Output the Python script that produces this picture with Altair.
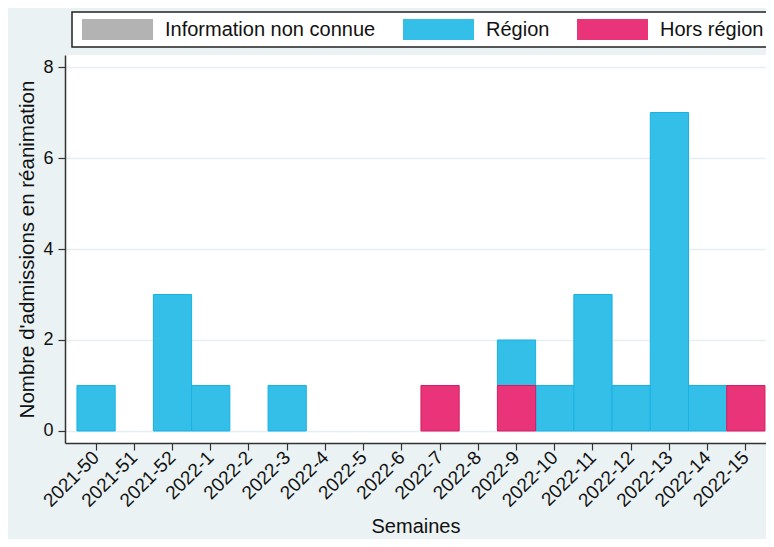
import altair as alt
import pandas as pd

weeks = ["2021-50", "2021-51", "2021-52", "2022-1", "2022-2", "2022-3", "2022-4",
         "2022-5", "2022-6", "2022-7", "2022-8", "2022-9", "2022-10", "2022-11",
         "2022-12", "2022-13", "2022-14", "2022-15"]
region = [1, 0, 3, 1, 0, 1, 0, 0, 0, 0, 0, 1, 1, 3, 1, 7, 1, 0]
hors_region = [0, 0, 0, 0, 0, 0, 0, 0, 0, 1, 0, 1, 0, 0, 0, 0, 0, 1]
inconnue = [0, 0, 0, 0, 0, 0, 0, 0, 0, 0, 0, 0, 0, 0, 0, 0, 0, 0]

categories = ["Information non connue", "Région", "Hors région"]
fill_colors = ["#B3B3B3", "#34BFE9", "#EA3479"]
stroke_colors = ["#A8A8A8", "#17B2E3", "#D41C62"]
stack_order = {"Hors région": 0, "Région": 1, "Information non connue": 2}

rows = []
for cat, vals in zip(categories, [inconnue, region, hors_region]):
    for w, v in zip(weeks, vals):
        if v > 0:
            rows.append({"semaine": w, "cat": cat, "n": v, "ord": stack_order[cat]})
df = pd.DataFrame(rows)

FONT = "Liberation Sans"

chart = alt.Chart(df).mark_bar(strokeWidth=1, opacity=1).encode(
    x=alt.X("semaine:N", sort=weeks,
            scale=alt.Scale(domain=weeks, paddingInner=0, paddingOuter=0.17, align=0.92),
            axis=alt.Axis(title="Semaines", labelAngle=-45, labelAlign="right",
                          labelBaseline="middle", labelFontSize=19, labelPadding=4,
                          tickSize=7, titleFontSize=20, titlePadding=6, grid=False)),
    y=alt.Y("n:Q", stack="zero",
            scale=alt.Scale(domain=[-0.264, 8.264], nice=False, zero=False),
            axis=alt.Axis(title="Nombre d'admissions en réanimation", values=[0, 2, 4, 6, 8],
                          labelFontSize=18, labelPadding=5, tickSize=7,
                          titleFontSize=20.5, titlePadding=5, grid=True)),
    color=alt.Color("cat:N",
                    scale=alt.Scale(domain=categories, range=fill_colors),
                    legend=alt.Legend(title=None, orient="none", legendX=7, legendY=-43,
                                      direction="horizontal",
                                      symbolType="M-3.381,-1H3.381V1H-3.381Z",
                                      symbolSize=441, symbolStrokeWidth=0,
                                      symbolOffset=28, labelOffset=37,
                                      columnPadding=24, padding=7,
                                      fillColor="white", strokeColor="#222",
                                      labelFontSize=20, labelFont=FONT,
                                      labelColor="#111", labelLimit=400)),
    stroke=alt.Stroke("cat:N", scale=alt.Scale(domain=categories, range=stroke_colors),
                      legend=None),
    order=alt.Order("ord:Q"),
).properties(
    width=701, height=388,
    autosize=alt.AutoSizeParams(type="none"),
    padding={"left": 57, "top": 47, "right": 0, "bottom": 96},
    background="#EAF2F3",
).configure_view(
    fill="white", stroke=None
).configure_axis(
    labelFont=FONT, titleFont=FONT, labelColor="#111", titleColor="#111",
    titleFontWeight="normal", domainColor="#333", domainWidth=1.5,
    tickColor="#333", tickWidth=1.2, gridColor="#E6EEF2", gridWidth=1.5
).configure_legend(
    strokeWidth=1.5
)

chart.save("out.html", embed_options={"renderer": "svg", "actions": False})
